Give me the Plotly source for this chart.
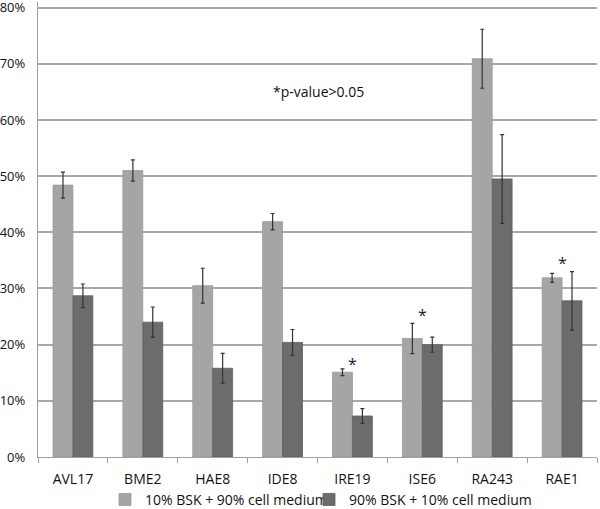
import plotly.graph_objects as go

categories = ["AVL17", "BME2", "HAE8", "IDE8", "IRE19", "ISE6", "RA243", "RAE1"]
series1_name = "10% BSK + 90% cell medium"
series2_name = "90% BSK + 10% cell medium"
series1 = [48.4, 51.0, 30.5, 41.9, 15.1, 21.1, 70.9, 31.9]
series1_err = [2.3, 1.9, 3.1, 1.45, 0.6, 2.7, 5.25, 0.8]
series2 = [28.7, 24.0, 15.8, 20.4, 7.3, 20.0, 49.5, 27.8]
series2_err = [2.1, 2.7, 2.65, 2.3, 1.3, 1.35, 7.9, 5.2]
star_categories = ["IRE19", "ISE6", "RAE1"]
star_y = [16.5, 25.3, 34.6]
tick_vals = [0, 10, 20, 30, 40, 50, 60, 70, 80]
tick_text = ["0%", "10%", "20%", "30%", "40%", "50%", "60%", "70%", "80%"]

FONT = "Open Sans"

fig = go.Figure()
fig.add_trace(go.Bar(
    x=categories, y=series1, name=series1_name, legend="legend",
    marker=dict(color="#a5a5a5", line=dict(color="#9a9a9a", width=0.8)),
    error_y=dict(type="data", array=series1_err, color="#333333", thickness=1.2, width=2),
))
fig.add_trace(go.Bar(
    x=categories, y=series2, name=series2_name, legend="legend2",
    marker=dict(color="#6c6c6c", line=dict(color="#5e5e5e", width=0.8)),
    error_y=dict(type="data", array=series2_err, color="#333333", thickness=1.2, width=2),
))

for c, yv in zip(star_categories, star_y):
    fig.add_annotation(x=c, y=yv, text="*", showarrow=False,
                       font=dict(family=FONT, size=16, color="#222222"))

fig.add_annotation(x=0.502, y=65.0, xref="paper", yref="y", text="*p-value>0.05",
                   showarrow=False, font=dict(family=FONT, size=14, color="#111111"))

legend_common = dict(orientation="h", xref="container", yref="container",
                     xanchor="left", y=0.018, yanchor="middle",
                     font=dict(family=FONT, size=14, color="#111111"),
                     itemwidth=30)

fig.update_layout(
    width=600, height=509,
    margin=dict(l=38, r=3, t=2, b=52, autoexpand=False),
    paper_bgcolor="white", plot_bgcolor="white",
    barmode="group", bargap=0.43, bargroupgap=0,
    font=dict(family=FONT, size=14, color="#111111"),
    showlegend=True,
    legend=dict(x=105 / 600, **legend_common),
    legend2=dict(x=309 / 600, bgcolor="rgba(0,0,0,0)", **legend_common),
    xaxis=dict(
        automargin=False,
        showline=True, linecolor="#a0a0a0", linewidth=1.2,
        ticks="outside", ticklen=5, tickcolor="#a0a0a0", tickson="boundaries",
        ticklabelstandoff=9,
        tickfont=dict(family=FONT, size=14, color="#111111"),
        showgrid=False,
    ),
    yaxis=dict(
        automargin=False,
        range=[0, 81], tickvals=tick_vals, ticktext=tick_text,
        showline=True, linecolor="#a0a0a0", linewidth=1.2,
        ticks="", ticklabelstandoff=9, ticklabeloverflow="allow",
        showgrid=True, gridcolor="#a8a8a8", gridwidth=1.5,
        zeroline=False,
        tickfont=dict(family=FONT, size=13, color="#111111"),
    ),
)

fig.write_html("out.html", config={"displayModeBar": False},
               post_script="document.body.style.margin='0';")
